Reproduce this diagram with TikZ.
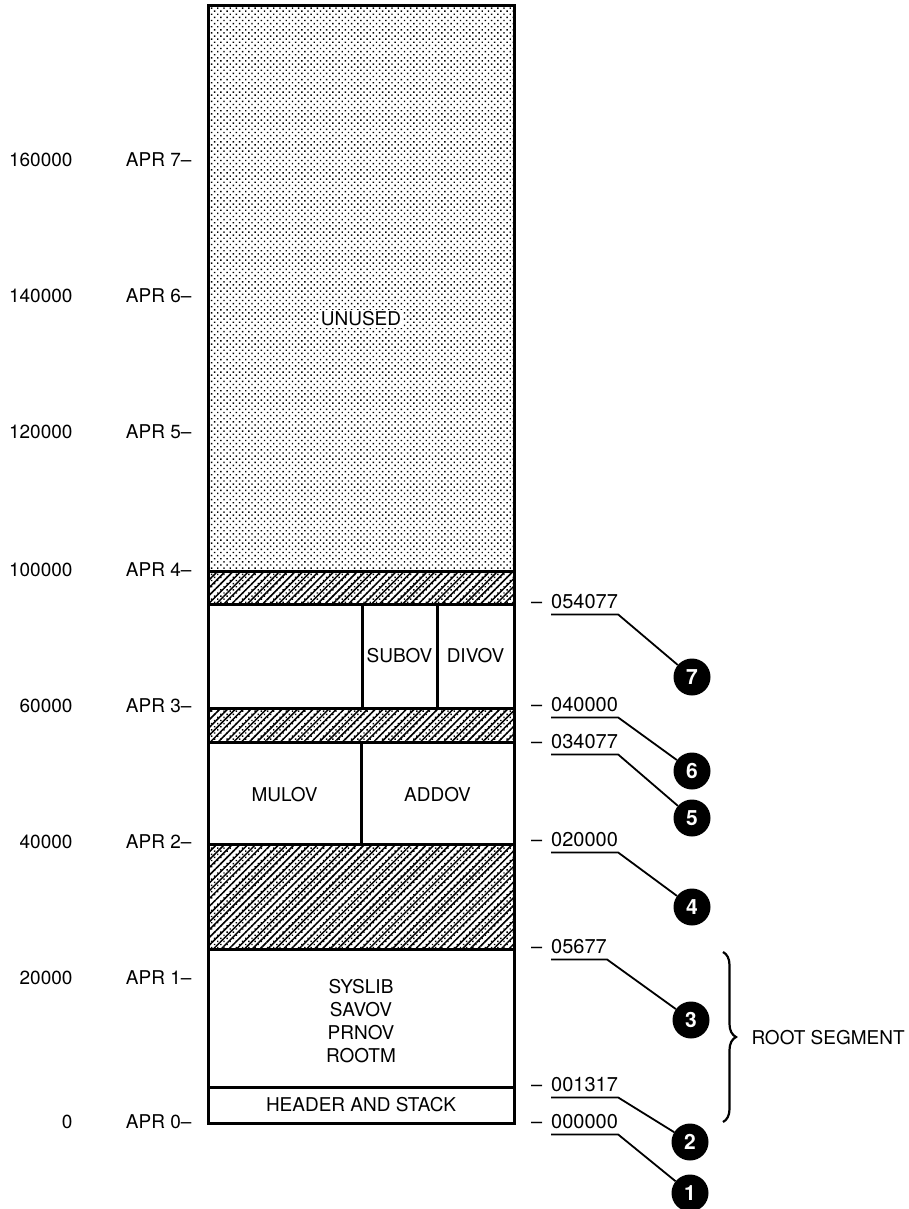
\documentclass[tikz,border=0pt]{standalone}
\usepackage{fontspec}
\setmainfont{TeX Gyre Heros}
\usetikzlibrary{patterns.meta,decorations.pathreplacing}

\begin{document}
\begin{tikzpicture}[x=1pt,y=-1pt,
  font=\fontsize{19}{23}\selectfont,
  dotfill/.style={pattern={Dots[distance=4.4pt,radius=1pt,angle=45]}},
  hatchfill/.style={pattern={Lines[distance=5.5pt,angle=45,line width=1.5pt]}},
  bnd/.style={line width=3pt},
  addr/.style={anchor=west,inner xsep=0pt,inner ysep=5pt,font=\fontsize{20}{24}\selectfont},
  num/.style={circle,fill=black,text=white,minimum size=37pt,inner sep=0pt,font=\fontsize{21}{22}\selectfont\bfseries},
  lead/.style={line width=1.8pt}]
\useasboundingbox (0,0) rectangle (909,1209);
% memory column
\fill[dotfill] (208,6) rectangle (514,604);
\fill[dotfill] (208,708) rectangle (514,742);
\fill[dotfill] (208,844) rectangle (514,949);
\foreach \a/\b in {571/604,708/742,844/949}
  \fill[hatchfill] (208,\a) rectangle (514,\b);
\draw[bnd] (208,6) rectangle (514,1123);
\foreach \y in {571,604,708,742,844,949,1087}
  \draw[bnd] (208,\y) -- (514,\y);
\draw[bnd] (362,604) -- (362,708);
\draw[bnd] (437,604) -- (437,708);
\draw[bnd] (361,742) -- (361,844);
% box texts
\node[fill=white,inner sep=2pt] (unused) at (361,319) {UNUSED};
\node (subov) at (399.5,656) {SUBOV};
\node (divov) at (475.5,656) {DIVOV};
\node (mulov) at (284.5,795) {MULOV};
\node (addov) at (437.5,795) {ADDOV};
\node[align=center] (rootm) at (361,1021) {SYSLIB\\SAVOV\\PRNOV\\ROOTM};
\node (hdr) at (361,1105) {HEADER AND STACK};
% left scale
\foreach \k/\y/\v in {7/160/160000,6/296/140000,5/432/120000,4/570/100000,
                      3/706/60000,2/842/40000,1/978/20000,0/1122/0} {
  \node[anchor=east] (v\k) at (76,\y) {\v};
  \node[anchor=east] (apr\k) at (195,\y) {APR \k--};
}
% addresses and callouts
\foreach \k/\y/\t/\cx/\cy in {7/602/054077/692/677, 6/705/040000/692/771,
                              5/742/034077/692/818, 4/840/020000/692/907,
                              3/947/05677/691/1020, 2/1085/001317/690/1142,
                              1/1122/000000/690/1193} {
  \node[addr] (a\k) at (551,\y) {\llap{--\hspace{9pt}}\t};
  \node[num] (c\k) at (\cx,\cy) {\k};
  \draw[lead] (a\k.south west) -- (a\k.south east) -- (c\k);
}
% root segment brace
\draw[line width=2.2pt,decorate,decoration={brace,amplitude=13pt}] (723,952) -- (723,1122);
\coordinate (tip) at (737,1038);
\node[anchor=west] (root) at ([xshift=11pt]tip) {ROOT SEGMENT};
\end{tikzpicture}
\end{document}
